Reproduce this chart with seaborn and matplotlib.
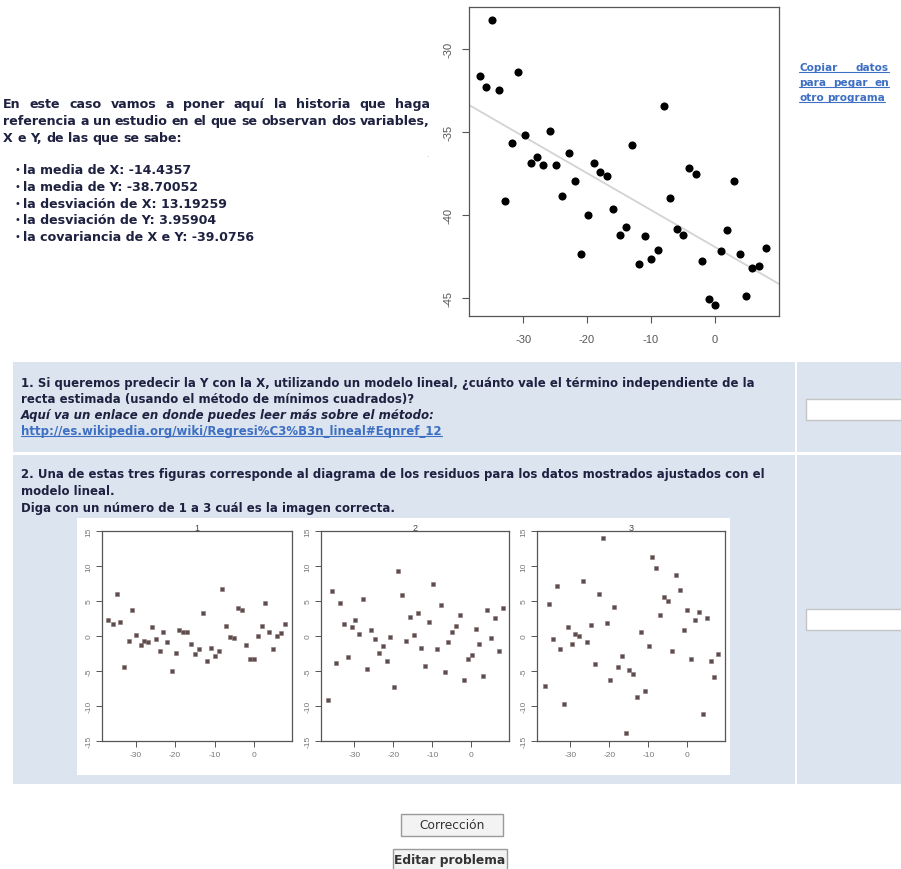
import numpy as np
import pandas as pd
import matplotlib
matplotlib.use("Agg")
import matplotlib.pyplot as plt
import seaborn as sns
from matplotlib.patches import Rectangle

# ---------------- data ----------------
x_vals = [-36.78, -35.79, -34.80, -33.76, -32.76, -31.77, -30.78, -29.74, -28.80, -27.80,
          -26.82, -25.83, -24.84, -23.84, -22.85, -21.86, -20.87, -19.88, -18.89, -17.90,
          -16.91, -15.92, -14.92, -13.93, -12.94, -11.95, -10.96, -9.97, -8.98, -7.93,
          -7.00, -6.00, -4.96, -4.02, -3.03, -1.99, -1.00, 0.00, 0.99, 1.92,
          2.92, 3.91, 4.90, 5.84, 6.93, 7.92]
y_vals = [-31.65, -32.29, -28.25, -32.47, -39.18, -35.64, -31.41, -35.16, -36.89, -36.53,
          -36.99, -34.94, -36.99, -38.84, -36.27, -37.97, -42.33, -40.02, -36.89, -37.43,
          -37.65, -39.62, -41.18, -40.72, -35.76, -42.95, -41.27, -42.65, -42.13, -33.41,
          -38.98, -40.84, -41.20, -37.15, -37.51, -42.79, -45.06, -45.40, -42.17, -40.92,
          -37.95, -42.33, -44.90, -43.21, -43.07, -41.97]

res1_x = [-36.95, -35.85, -34.9, -33.9, -32.9, -31.86, -30.85, -29.9, -28.8, -27.9,
          -26.95, -25.9, -24.9, -23.9, -22.97, -21.95, -20.93, -19.9, -18.9, -17.97,
          -16.95, -15.93, -15.0, -13.98, -12.97, -11.95, -11.0, -10.0, -8.98, -8.05,
          -7.03, -6.0, -5.0, -4.07, -3.05, -2.03, -1.0, 0.0, 0.93, 1.95,
          2.88, 3.9, 4.92, 5.93, 6.95, 7.88]
res1_y = [2.24, 1.76, 5.95, 1.95, -4.48, -0.71, 3.67, 0.19, -1.33, -0.67,
          -0.9, 1.29, -0.48, -2.14, 0.62, -0.86, -4.95, -2.43, 0.9, 0.62,
          0.57, -1.19, -2.52, -1.86, 3.33, -3.62, -1.71, -2.9, -2.1, 6.71,
          1.43, -0.14, -0.29, 3.95, 3.76, -1.29, -3.29, -3.33, 0.05, 1.48,
          4.67, 0.52, -1.86, 0.05, 0.48, 1.76]

res2_x = [-36.7, -35.7, -34.66, -33.73, -32.7, -31.7, -30.76, -29.75, -28.73, -27.7,
          -26.7, -25.76, -24.75, -23.73, -22.7, -21.7, -20.76, -19.75, -18.73, -17.8,
          -16.78, -15.85, -14.83, -13.8, -12.8, -11.78, -10.76, -9.75, -8.81, -7.88,
          -6.86, -5.85, -4.83, -3.9, -2.88, -1.86, -0.85, 0.17, 1.1, 2.12,
          3.14, 4.07, 5.08, 6.1, 7.12, 8.14]
res2_y = [-9.19, 6.43, -3.9, 4.76, 1.76, -2.95, 1.29, 2.24, 0.33, 5.24,
          -4.67, 0.81, -0.48, -2.43, -1.43, -3.57, -0.1, -7.33, 9.24, 5.81,
          -0.71, 2.71, 0.19, 3.33, -1.67, -4.29, 1.95, 7.43, -1.9, 4.38,
          -5.14, -0.9, 0.62, 1.48, 3.05, -6.33, -3.24, -2.67, 1.05, -1.19,
          -5.71, 3.67, -0.29, 2.52, -2.1, 4.0]

res3_x = [-36.57, -35.56, -34.55, -33.54, -32.61, -31.6, -30.67, -29.66, -28.74, -27.73,
          -26.71, -25.7, -24.78, -23.77, -22.75, -21.74, -20.73, -19.72, -18.8, -17.78,
          -16.86, -15.85, -14.84, -13.83, -12.9, -11.89, -10.88, -9.87, -8.94, -7.93,
          -6.92, -5.91, -4.98, -3.97, -2.96, -1.95, -0.93, 0.0, 1.01, 1.94,
          3.03, 4.04, 4.97, 5.98, 6.99, 7.91]
res3_y = [-7.1, 4.57, -0.43, 7.19, -1.86, -9.71, 1.24, -1.14, 0.29, -0.05,
          7.9, -0.81, 1.52, -4.05, 5.95, 14.0, 1.9, -6.33, 4.14, -4.48,
          -2.9, -13.86, -4.86, -5.38, -8.67, 0.52, -7.81, -1.43, 11.24, 9.76,
          3.0, 5.52, 5.0, -2.14, 8.71, 6.57, 0.9, 3.71, -3.24, 2.24,
          3.38, -11.19, 2.62, -3.62, -5.9, -2.52]

main_xticks = [-30, -20, -10, 0]
main_yticks = [-30, -35, -40, -45]
res_xticks = [-30, -20, -10, 0]
res_yticks = [-15, -10, -5, 0, 5, 10, 15]
res_titles = ["1", "2", "3"]

intro_lines = ["En este caso vamos a poner aquí la historia que haga",
               "referencia a un estudio en el que se observan dos variables,",
               "X e Y, de las que se sabe:"]
bullets = ["la media de X: -14.4357",
           "la media de Y: -38.70052",
           "la desviación de X: 13.19259",
           "la desviación de Y: 3.95904",
           "la covariancia de X e Y: -39.0756"]
link_lines = ["Copiar datos", "para pegar en", "otro programa"]
q1_lines = ["1. Si queremos predecir la Y con la X, utilizando un modelo lineal, ¿cuánto vale el término independiente de la",
            "recta estimada (usando el método de mínimos cuadrados)?",
            "Aquí va un enlace en donde puedes leer más sobre el método:",
            "http://es.wikipedia.org/wiki/Regresi%C3%B3n_lineal#Eqnref_12"]
q2_lines = ["2. Una de estas tres figuras corresponde al diagrama de los residuos para los datos mostrados ajustados con el",
            "modelo lineal.",
            "Diga con un número de 1 a 3 cuál es la imagen correcta."]
buttons = ["Corrección", "Editar problema"]

# ---------------- setup ----------------
W, H = 901, 870
sns.set_style("white")
plt.rcParams['font.family'] = ['DejaVu Sans']
plt.rcParams['axes.unicode_minus'] = False

fig = plt.figure(figsize=(W / 100, H / 100), dpi=100)
fig.patch.set_facecolor("white")
bg = fig.add_axes([0, 0, 1, 1])
bg.set_xlim(0, W)
bg.set_ylim(H, 0)
bg.axis("off")
renderer = fig.canvas.get_renderer()

TXT = "#1e2140"
LINK = "#3d6fc2"
CELL = "#dce4f0"


def px_axes(x0, y0, x1, y1):
    return fig.add_axes([x0 / W, 1 - y1 / H, (x1 - x0) / W, (y1 - y0) / H])


def put_line(text, x0, x1, y, justify=True, underline=False, **kw):
    words = text.split(" ")
    ts = [bg.text(0, y, w, ha="left", va="baseline", **kw) for w in words]
    widths = [t.get_window_extent(renderer).width for t in ts]
    sp = bg.text(0, y, "a a", **kw)
    spw = sp.get_window_extent(renderer).width
    a = bg.text(0, y, "aa", **kw)
    spw -= a.get_window_extent(renderer).width
    sp.remove(); a.remove()
    if justify and len(words) > 1:
        gap = (x1 - x0 - sum(widths)) / (len(words) - 1)
    else:
        gap = spw
    x = x0
    for t, w in zip(ts, widths):
        t.set_x(x)
        x += w + gap
    end = x - gap
    if underline:
        bg.plot([x0, end], [y + 2, y + 2], color=kw.get("color", LINK), lw=0.8)
    return end


# ---------------- left description ----------------
para_fs = 9.1
for i, ln in enumerate(intro_lines):
    put_line(ln, 3, 430, 108 + 17 * i, justify=(i < 2),
             fontsize=para_fs, fontweight="bold", color=TXT)
for i, b in enumerate(bullets):
    yb = 174 + 16.8 * i
    bg.text(15, yb - 1, "•", fontsize=7, color=TXT, ha="left", va="baseline")
    bg.text(23, yb, b, fontsize=para_fs, fontweight="bold", color=TXT, ha="left", va="baseline")
bg.text(427, 158, "·", fontsize=6, color="#aaaaaa", ha="center", va="center")

# link on the right
for i, ln in enumerate(link_lines):
    put_line(ln, 799, 889, 71 + 15 * i, justify=(i < 2), underline=True,
             fontsize=7.6, fontweight="bold", color=LINK)

# ---------------- table background ----------------
bg.add_patch(Rectangle((13, 363), 782, 90, fc=CELL, ec="none"))
bg.add_patch(Rectangle((797, 363), 104, 90, fc=CELL, ec="none"))
bg.add_patch(Rectangle((13, 456), 782, 329, fc=CELL, ec="none"))
bg.add_patch(Rectangle((797, 456), 104, 329, fc=CELL, ec="none"))
bg.add_patch(Rectangle((806, 400), 96, 21, fc="white", ec="#c4c4c4", lw=1))
bg.add_patch(Rectangle((806, 610), 96, 21, fc="white", ec="#c4c4c4", lw=1))
bg.add_patch(Rectangle((77, 519), 653, 257, fc="white", ec="none"))

q_fs = 8.45
for i, ln in enumerate(q1_lines):
    y = 387 + 16 * i
    if i == 2:
        bg.text(21, y, ln, fontsize=q_fs, fontweight="bold", style="italic", color=TXT, va="baseline")
    elif i == 3:
        t = bg.text(21, y, ln, fontsize=q_fs, fontweight="bold", color=LINK, va="baseline")
        w = t.get_window_extent(renderer).width
        bg.plot([21, 21 + w], [y + 2, y + 2], color=LINK, lw=0.8)
    else:
        bg.text(21, y, ln, fontsize=q_fs, fontweight="bold", color=TXT, va="baseline")
for i, ln in enumerate(q2_lines):
    bg.text(21, 478 + 17 * i, ln, fontsize=q_fs, fontweight="bold", color=TXT, va="baseline")

# buttons
bg.add_patch(Rectangle((401, 815), 102, 22, fc="#f3f3f3", ec="#9a9a9a", lw=1))
bg.text(452, 826, buttons[0], fontsize=8.8, color="#333333", ha="center", va="center")
bg.add_patch(Rectangle((393, 850), 114, 22, fc="#f3f3f3", ec="#9a9a9a", lw=1))
bg.text(450, 861, buttons[1], fontsize=8.8, fontweight="bold", color="#333333", ha="center", va="center")

# ---------------- main scatter ----------------
XL = (-38.45, 10.0)
ax = px_axes(469, 8, 779, 317)
df = pd.DataFrame({"x": x_vals, "y": y_vals})
ax.set_xlim(*XL)
ax.set_ylim(-46.08, -27.47)
sns.regplot(data=df, x="x", y="y", ax=ax, scatter=False, ci=None, truncate=False,
            line_kws=dict(color="#d3d3d3", lw=1.3))
sns.scatterplot(data=df, x="x", y="y", ax=ax, color="black", s=34, linewidth=0, zorder=3)
ax.set_xlim(*XL)
ax.set_ylim(-46.08, -27.47)
ax.set_xticks(main_xticks)
ax.set_xticklabels([str(v) for v in main_xticks], fontfamily="Liberation Sans")
ax.set_yticks(main_yticks)
ax.set_yticklabels([str(v) for v in main_yticks], rotation=90, va="center", fontfamily="Liberation Sans")
ax.set_xlabel("")
ax.set_ylabel("")
ax.tick_params(bottom=True, left=True, direction="out", length=5, width=0.8,
               color="#555555", labelcolor="#555555", labelsize=8)
ax.tick_params(axis="x", pad=8)
ax.tick_params(axis="y", pad=6)
for s in ax.spines.values():
    s.set_color("#555555")
    s.set_linewidth(0.9)

# ---------------- residual plots ----------------
res_sets = [(res1_x, res1_y), (res2_x, res2_y), (res3_x, res3_y)]
res_boxes = [(102, 532, 292, 742), (321, 532, 509, 742), (537, 532, 725, 742)]
for (rx, ry), box, ttl in zip(res_sets, res_boxes, res_titles):
    rax = px_axes(*box)
    rdf = pd.DataFrame({"x": rx, "r": ry})
    sns.scatterplot(data=rdf, x="x", y="r", ax=rax, color="#5e4c4c", marker="s",
                    s=8, linewidth=0.4, edgecolor="#8a7878")
    rax.set_xlim(-38.6, 9.7)
    rax.set_ylim(-15, 15)
    rax.set_xticks(res_xticks)
    rax.set_xticklabels([str(v) for v in res_xticks], fontfamily="Liberation Sans")
    rax.set_yticks(res_yticks)
    rax.set_yticklabels([str(v) for v in res_yticks], rotation=90, va="center",
                        fontfamily="Liberation Sans")
    rax.set_xlabel("")
    rax.set_ylabel("")
    rax.set_title(ttl, fontsize=6.5, pad=0.5, color="#444444", fontfamily="Liberation Sans")
    rax.tick_params(bottom=True, left=True, direction="out", length=4, width=0.7,
                    color="#555555", labelcolor="#777777", labelsize=6, pad=3)
    for s in rax.spines.values():
        s.set_color("#555555")
        s.set_linewidth(0.9)

fig.savefig("out.png", dpi=100, facecolor="white")
